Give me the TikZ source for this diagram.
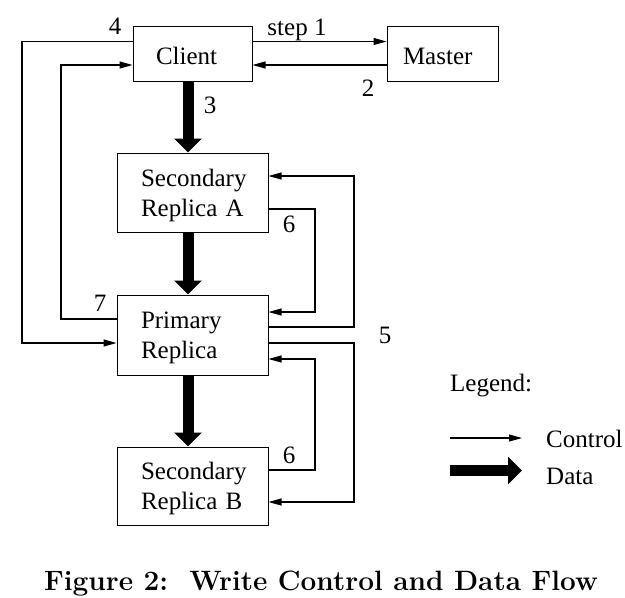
\documentclass[tikz,border=0pt]{standalone}
\usepackage{fontspec}
\newfontfamily\tnr{Liberation Serif}
\usetikzlibrary{arrows.meta}
\newcommand\topstrut{\rule{0pt}{23pt}}
\begin{document}
\begin{tikzpicture}[x=1pt,y=-1pt,
  every node/.style={font=\tnr\fontsize{25}{30}\selectfont},
  box/.style={draw, line width=1pt, align=left, inner ysep=2pt},
  lbl/.style={inner sep=0pt},
  ctrl/.style={line width=1.1pt, -{Triangle[length=13pt,width=7pt]}},
  data/.style={line width=11pt, -{Triangle[length=14pt,width=27pt]}},
]
\useasboundingbox (0,0) rectangle (625,598);
% boxes
\node[box, minimum width=119pt, minimum height=55pt, text width=73pt, inner xsep=23pt] (client) at (192.5,53.5) {\topstrut Client};
\node[box, minimum width=111pt, minimum height=55pt, text width=79pt, inner xsep=16pt] (master) at (442.5,53.5) {\topstrut Master};
\node[box, minimum width=151pt, minimum height=79pt, text width=103pt, inner xsep=24pt] (secA) at (192.5,192.5) {\topstrut\mbox{Secondary}\\\mbox{Replica A}};
\node[box, minimum width=151pt, minimum height=80pt, text width=103pt, inner xsep=24pt] (prim) at (192.5,335) {\topstrut\mbox{Primary}\\\mbox{Replica}};
\node[box, minimum width=151pt, minimum height=78pt, text width=103pt, inner xsep=24pt] (secB) at (192.5,486) {\topstrut\mbox{Secondary}\\\mbox{Replica B}};
% column coordinates
\coordinate (x4) at (22,0);
\coordinate (x7) at (61,0);
\coordinate (x6) at (315,0);
\coordinate (x5) at (354,0);
% ports
\coordinate (c1) at ([yshift=12pt]client.east);
\coordinate (m1) at ([yshift=12pt]master.west);
\coordinate (m2) at ([yshift=-11.5pt]master.west);
\coordinate (c2) at ([yshift=-11.5pt]client.east);
\coordinate (c4) at ([yshift=12pt]client.west);
\coordinate (c7) at ([yshift=-11.5pt]client.west);
\coordinate (p4) at ([yshift=-8pt]prim.west);
\coordinate (p7) at ([yshift=16pt]prim.west);
\coordinate (a5) at ([yshift=16.5pt]secA.east);
\coordinate (a6) at ([yshift=-16.5pt]secA.east);
\coordinate (p6a) at ([yshift=23pt]prim.east);
\coordinate (p5a) at ([yshift=8pt]prim.east);
\coordinate (p5b) at ([yshift=-8pt]prim.east);
\coordinate (p6b) at ([yshift=-24pt]prim.east);
\coordinate (b6) at ([yshift=16pt]secB.east);
\coordinate (b5) at ([yshift=-16pt]secB.east);
% control flow
\draw[ctrl] (c1) -- (m1);
\draw[ctrl] (m2) -- (c2);
\draw[ctrl] (c4) -| (x4 |- p4) -- (p4);
\draw[ctrl] (p7) -| (x7 |- c7) -- (c7);
\draw[ctrl] (p5a) -| (x5 |- a5) -- (a5);
\draw[ctrl] (a6) -| (x6 |- p6a) -- (p6a);
\draw[ctrl] (p5b) -| (x5 |- b5) -- (b5);
\draw[ctrl] (b6) -| (x6 |- p6b) -- (p6b);
% data flow
\draw[data] ([xshift=-4.5pt]client.south) -- ([xshift=-4.5pt]secA.north);
\draw[data] ([xshift=-4.5pt]secA.south) -- ([xshift=-4.5pt]prim.north);
\draw[data] ([xshift=-4.5pt]prim.south) -- ([xshift=-4.5pt]secB.north);
% labels
\node[lbl, anchor=base] (l1) at (297,35) {step 1};
\node[lbl] (l2) at (368,88) {2};
\node[lbl] (l3) at (210,105) {3};
\node[lbl] (l4) at (115,26) {4};
\node[lbl] (l5) at (385,335) {5};
\node[lbl] (l6a) at (289,224) {6};
\node[lbl] (l6b) at (289,455) {6};
\node[lbl] (l7) at (100,303) {7};
% legend
\node[lbl, anchor=base west] (leg) at (450,391) {Legend:};
\coordinate (lc0) at (450,438);
\coordinate (lc1) at (522,438);
\coordinate (ld0) at (450,470.5);
\coordinate (ld1) at (522,470.5);
\draw[ctrl] (lc0) -- (lc1);
\draw[data] (ld0) -- (ld1);
\node[lbl, anchor=base west] (lctrl) at (546,447) {Control};
\node[lbl, anchor=base west] (ldata) at (546,484) {Data};
% caption
\node[lbl, anchor=base, font=\fontsize{28}{32}\selectfont\bfseries] (cap) at (321,590) {Figure 2:\ \ Write Control and Data Flow};
\end{tikzpicture}
\end{document}
